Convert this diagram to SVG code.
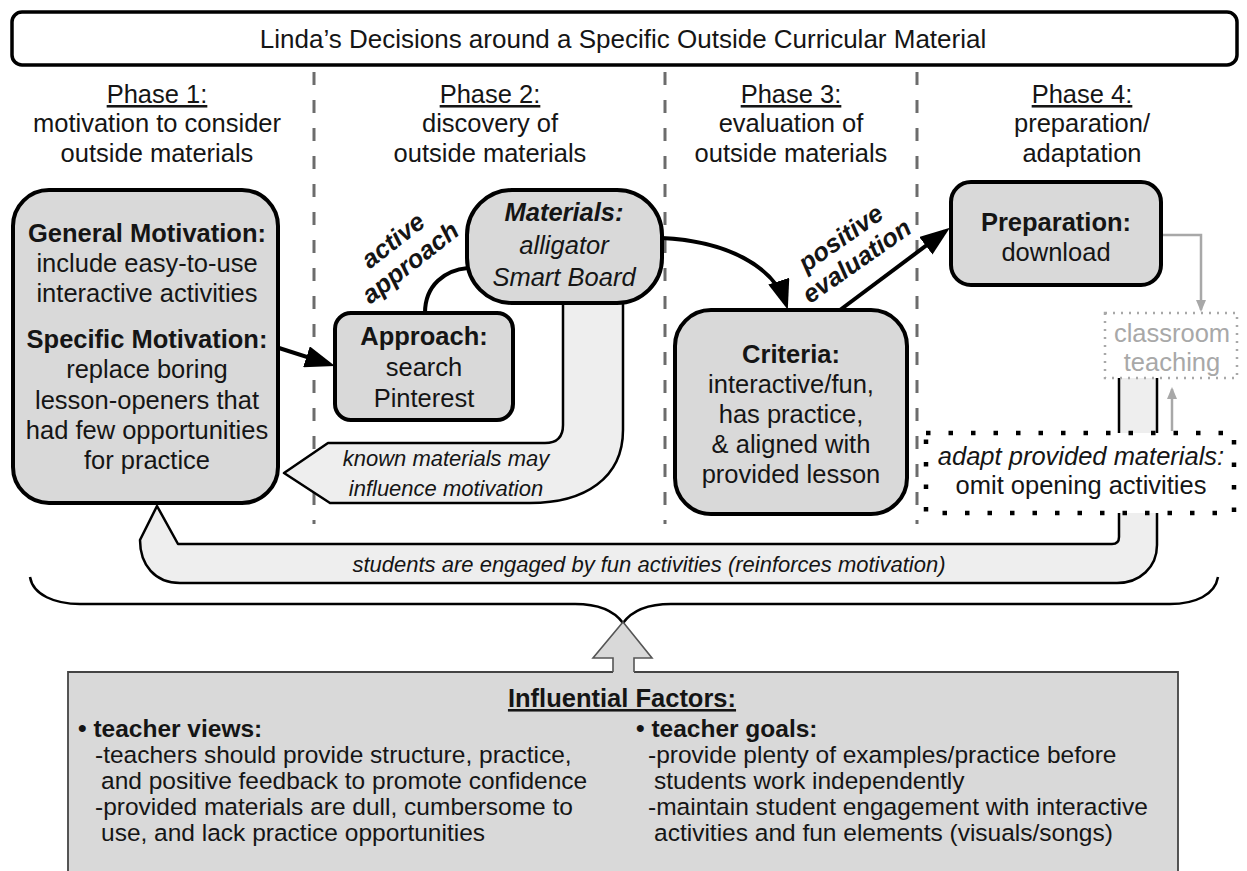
<svg xmlns="http://www.w3.org/2000/svg" width="1247" height="871" viewBox="0 0 1247 871">
  <defs>
    <style>
      text { font-family: "Liberation Sans", Arial, sans-serif; fill: #151515; }
      .c { text-anchor: middle; font-size: 25.5px; }
      .title { font-size: 26px; }
      .b { font-weight: bold; }
      .i { font-style: italic; }
      .u { text-decoration: underline; }
      .small { font-size: 22px; }
      .list { font-size: 24.5px; }
      .gray { fill: #a8a8a8; }
      .node { fill: #d9d9d9; stroke: #000; stroke-width: 4; }
      .band { fill: #eeeeee; stroke: #000; stroke-width: 2.5; stroke-linejoin: round; }
      .divider { stroke: #6c6c6c; stroke-width: 3; stroke-dasharray: 13 15; fill: none; }
      .conn { fill: none; stroke: #000; stroke-width: 4; }
      .gconn { fill: none; stroke: #a8a8a8; stroke-width: 2.5; }
    </style>
    <marker id="ah" viewBox="0 0 30 22" refX="24" refY="11" markerWidth="30" markerHeight="22" markerUnits="userSpaceOnUse" orient="auto">
      <path d="M0,0 L30,11 L0,22 z" fill="#000"/>
    </marker>
    <marker id="ahGray" viewBox="0 0 12 10" refX="10" refY="5" markerWidth="12" markerHeight="10" markerUnits="userSpaceOnUse" orient="auto">
      <path d="M0,0 L12,5 L0,10 z" fill="#a8a8a8"/>
    </marker>
  </defs>

  <rect width="1247" height="871" fill="#fff"/>

  <!-- phase dividers -->
  <g id="dividers">
    <line class="divider" x1="314" y1="72" x2="314" y2="524"/>
    <line class="divider" x1="665" y1="72" x2="665" y2="524"/>
    <line class="divider" x1="917" y1="72" x2="917" y2="524"/>
  </g>

  <!-- title bar -->
  <g id="title">
    <rect x="12" y="12" width="1225" height="53" rx="10" fill="#fff" stroke="#000" stroke-width="3.5"/>
    <text class="c title" x="623" y="48">Linda’s Decisions around a Specific Outside Curricular Material</text>
  </g>

  <!-- phase headings -->
  <g id="phase-headers">
    <text class="c" x="157" y="103"><tspan class="u">Phase 1:</tspan></text>
    <text class="c" x="157" y="132">motivation to consider</text>
    <text class="c" x="157" y="162">outside materials</text>
    <text class="c" x="490" y="103"><tspan class="u">Phase 2:</tspan></text>
    <text class="c" x="490" y="132">discovery of</text>
    <text class="c" x="490" y="162">outside materials</text>
    <text class="c" x="791" y="103"><tspan class="u">Phase 3:</tspan></text>
    <text class="c" x="791" y="132">evaluation of</text>
    <text class="c" x="791" y="162">outside materials</text>
    <text class="c" x="1082" y="103"><tspan class="u">Phase 4:</tspan></text>
    <text class="c" x="1082" y="132">preparation/</text>
    <text class="c" x="1082" y="162">adaptation</text>
  </g>

  <!-- connectors -->
  <g id="connectors">
    <!-- feedback band: known materials back to motivation -->
    <path class="band" d="M563,290 L563,425 C563,437 557,443 545,443 L328,443 L284,473 L330,503 L530,503 C585,503 623,478 623,430 L623,290 Z"/>
    <text class="small i" x="446" y="466" text-anchor="middle">known materials may</text>
    <text class="small i" x="446" y="496" text-anchor="middle">influence motivation</text>

    <!-- feedback band: classroom engagement back to motivation -->
    <path class="band" d="M157,506 L178,544 L1112,544 Q1119,544 1119,537 L1119,360 L1157,360 L1157,545 C1157,567 1140,583 1117,583 L180,583 C155,583 140,565 140,540 Z"/>
    <text class="small i" x="649" y="572" text-anchor="middle">students are engaged by fun activities (reinforces motivation)</text>

    <!-- motivation to approach -->
    <path class="conn" d="M279,348 L329.3,364.2" marker-end="url(#ah)"/>
    <!-- approach to materials -->
    <path class="conn" d="M425,313 C425,285 445,270 468,268"/>
    <g transform="translate(402,252) rotate(-38)">
      <text class="c b i" x="0" y="-6">active</text>
      <text class="c b i" x="0" y="22">approach</text>
    </g>
    <!-- materials to criteria -->
    <path class="conn" d="M662,238 C726,241 774,266 786,304" marker-end="url(#ah)"/>
    <!-- criteria to preparation -->
    <path class="conn" d="M840,310 L945.1,231.4" marker-end="url(#ah)"/>
    <g transform="translate(849,250) rotate(-35)">
      <text class="c b i" x="0" y="-6">positive</text>
      <text class="c b i" x="0" y="22">evaluation</text>
    </g>
    <!-- preparation to classroom teaching -->
    <path class="gconn" d="M1162,235 H1201 V310" marker-end="url(#ahGray)"/>
    <!-- adaptation to classroom teaching -->
    <path class="gconn" d="M1172,431 V389" marker-end="url(#ahGray)"/>

    <!-- brace gathering the phases -->
    <path d="M30,577 C33,595 55,604 80,604 L575,604 C600,604 615,612 623,623 C631,612 646,604 671,604 L1170,604 C1195,604 1215,595 1218,577" fill="none" stroke="#000" stroke-width="2.5"/>
  </g>

  <!-- Phase 1 -->
  <g id="node-motivation">
    <rect class="node" x="13" y="190" width="265" height="313" rx="36"/>
    <text class="c b" x="147" y="242">General Motivation:</text>
    <text class="c" x="147" y="272">include easy-to-use</text>
    <text class="c" x="147" y="302">interactive activities</text>
    <text class="c b" x="147" y="348">Specific Motivation:</text>
    <text class="c" x="147" y="378">replace boring</text>
    <text class="c" x="147" y="409">lesson-openers that</text>
    <text class="c" x="147" y="439">had few opportunities</text>
    <text class="c" x="147" y="469">for practice</text>
  </g>

  <!-- Phase 2 -->
  <g id="node-approach">
    <rect class="node" x="335" y="313" width="178" height="107" rx="16"/>
    <text class="c b" x="424" y="345">Approach:</text>
    <text class="c" x="424" y="376">search</text>
    <text class="c" x="424" y="407">Pinterest</text>
  </g>
  <g id="node-materials">
    <rect class="node" x="467" y="190" width="195" height="113" rx="45"/>
    <text class="c b i" x="564" y="221">Materials:</text>
    <text class="c i" x="564" y="254">alligator</text>
    <text class="c i" x="564" y="286">Smart Board</text>
  </g>

  <!-- Phase 3 -->
  <g id="node-criteria">
    <rect class="node" x="675" y="310" width="232" height="204" rx="36"/>
    <text class="c b" x="791" y="363">Criteria:</text>
    <text class="c" x="791" y="393">interactive/fun,</text>
    <text class="c" x="791" y="423">has practice,</text>
    <text class="c" x="791" y="453">&amp; aligned with</text>
    <text class="c" x="791" y="483">provided lesson</text>
  </g>

  <!-- Phase 4 -->
  <g id="node-preparation">
    <rect class="node" x="951" y="182" width="210" height="103" rx="20"/>
    <text class="c b" x="1056" y="231">Preparation:</text>
    <text class="c" x="1056" y="261">download</text>
  </g>
  <g id="node-classroom">
    <rect x="1105" y="313" width="132" height="65" fill="#fff" stroke="#a8a8a8" stroke-width="2.5" stroke-dasharray="2 6"/>
    <text class="c gray" x="1172" y="342">classroom</text>
    <text class="c gray" x="1172" y="371">teaching</text>
  </g>
  <g id="node-adapt">
    <rect x="926" y="433" width="308" height="80" fill="#fff" stroke="#000" stroke-width="4.5" stroke-dasharray="4.5 18"/>
    <text class="c i" x="1081" y="465">adapt provided materials:</text>
    <text class="c" x="1081" y="494">omit opening activities</text>
  </g>

  <!-- influential factors -->
  <g id="node-factors">
    <rect x="68" y="672" width="1110" height="210" fill="#d9d9d9"/>
    <path d="M613,672 H68 V880 M1178,880 V672 H634" fill="none" stroke="#444" stroke-width="1.8"/>
    <path d="M623,622 L652,658 L634,658 L634,673 L613,673 L613,658 L593,658 Z" fill="#d9d9d9"/>
    <path d="M613,672 L613,658 L593,658 L623,622 L652,658 L634,658 L634,672" fill="none" stroke="#555" stroke-width="1.6" stroke-linejoin="miter"/>
    <text class="c b u" x="622" y="707">Influential Factors:</text>
    <text class="list b" x="78" y="737">• teacher views:</text>
    <text class="list" x="95" y="763">-teachers should provide structure, practice,</text>
    <text class="list" x="101" y="789">and positive feedback to promote confidence</text>
    <text class="list" x="95" y="815">-provided materials are dull, cumbersome to</text>
    <text class="list" x="101" y="841">use, and lack practice opportunities</text>
    <text class="list b" x="636" y="737">• teacher goals:</text>
    <text class="list" x="648" y="763">-provide plenty of examples/practice before</text>
    <text class="list" x="654" y="789">students work independently</text>
    <text class="list" x="648" y="815">-maintain student engagement with interactive</text>
    <text class="list" x="654" y="841">activities and fun elements (visuals/songs)</text>
  </g>
</svg>
